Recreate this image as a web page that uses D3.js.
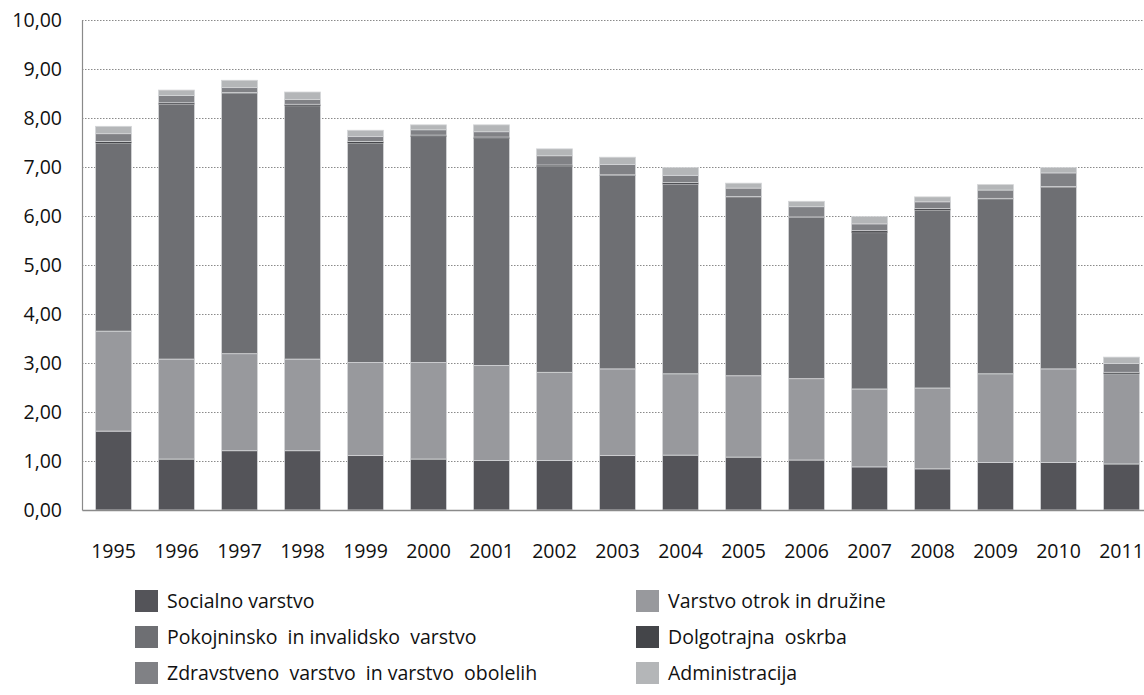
<!DOCTYPE html>
<html><head><meta charset="utf-8">
<script src="https://cdn.jsdelivr.net/npm/d3@7"></script>
<style>
body{margin:0;background:#fff;}
text{font-family:"Open Sans","Noto Sans",sans-serif;fill:#111;}
</style></head><body>
<svg id="c" width="1144" height="695"></svg>
<script>
const years = ["1995","1996","1997","1998","1999","2000","2001","2002","2003","2004","2005","2006","2007","2008","2009","2010","2011"];
const socialno     = [1.61,1.04,1.21,1.21,1.11,1.04,1.01,1.01,1.11,1.12,1.08,1.02,0.88,0.84,0.97,0.97,0.94];
const otrok        = [2.04,2.04,1.98,1.87,1.90,1.97,1.94,1.80,1.77,1.66,1.66,1.66,1.59,1.65,1.81,1.91,1.84];
const pokojninsko  = [3.84,5.20,5.32,5.17,4.48,4.61,4.63,4.20,3.95,3.87,3.65,3.29,3.19,3.63,3.57,3.71,0.00];
const dolgotrajna  = [0.03,0.03,0.01,0.03,0.03,0.03,0.03,0.03,0.01,0.03,0.01,0.01,0.04,0.03,0.01,0.01,0.03];
const zdravstveno  = [0.16,0.15,0.10,0.10,0.10,0.11,0.11,0.19,0.21,0.15,0.17,0.21,0.14,0.14,0.17,0.28,0.18];
const administracija=[0.15,0.11,0.15,0.15,0.13,0.10,0.14,0.14,0.15,0.16,0.10,0.11,0.15,0.10,0.11,0.11,0.13];
const yTicks = [0,1,2,3,4,5,6,7,8,9,10];

const series = [
  {key:"socialno", name:"Socialno varstvo", values:socialno, color:"#545459"},
  {key:"otrok", name:"Varstvo otrok in družine", values:otrok, color:"#98999d"},
  {key:"pokojninsko", name:"Pokojninsko  in invalidsko  varstvo", values:pokojninsko, color:"#6e6f73"},
  {key:"dolgotrajna", name:"Dolgotrajna  oskrba", values:dolgotrajna, color:"#444549"},
  {key:"zdravstveno", name:"Zdravstveno  varstvo  in varstvo  obolelih", values:zdravstveno, color:"#808185"},
  {key:"administracija", name:"Administracija", values:administracija, color:"#b4b6b8"}
];

const table = years.map((yr,i)=>{const o={year:yr}; series.forEach(s=>o[s.key]=s.values[i]); return o;});
const stack = d3.stack().keys(series.map(s=>s.key))(table);

const svg = d3.select("#c");
const mLeft = 82, mRight = 1153, mTop = 20, mBottom = 510;
const FS = 19.5;
const x = d3.scaleBand().domain(years).range([mLeft,mRight]).paddingInner(0.43).paddingOuter(0.215);
const y = d3.scaleLinear().domain([0,10]).range([mBottom,mTop]);

// gridlines
svg.append("g").selectAll("line").data(yTicks.filter(d=>d>0)).join("line")
  .attr("x1",mLeft).attr("x2",1144).attr("y1",d=>y(d)+0.5).attr("y2",d=>y(d)+0.5)
  .attr("stroke","#8a8a8a").attr("stroke-width",1).attr("stroke-dasharray","1.5,1.5");

// bars
const g = svg.append("g");
stack.forEach((layer,li)=>{
  g.append("g").attr("fill",series[li].color).selectAll("rect").data(layer).join("rect")
    .attr("x",d=>x(d.data.year)).attr("width",x.bandwidth())
    .attr("y",d=>y(d[1])).attr("height",d=>Math.max(0,y(d[0])-y(d[1])))
    .attr("stroke", series[li].key==="dolgotrajna" ? "none" : "#d4d5d7")
    .attr("stroke-width",0.8);
});

// axes
const yAxis = d3.axisLeft(y).tickValues(yTicks).tickSize(0).tickPadding(20)
  .tickFormat(d=>d3.format(".2f")(d).replace(".",","));
const ya = svg.append("g").attr("transform",`translate(${mLeft},0)`).call(yAxis);
ya.select(".domain").attr("stroke","#8a8a8a").attr("stroke-width",1.2);
ya.selectAll("text").attr("font-size",FS).attr("fill","#111").style("font-family","'Open Sans','Noto Sans',sans-serif");

const xAxis = d3.axisBottom(x).tickSize(0).tickPadding(34);
const xa = svg.append("g").attr("transform",`translate(0,${mBottom})`).call(xAxis);
xa.select(".domain").attr("stroke","#8a8a8a").attr("stroke-width",1.5);
xa.selectAll("text").attr("font-size",FS).attr("fill","#111").style("font-family","'Open Sans','Noto Sans',sans-serif");

// legend (row-major, two columns)
const lg = svg.append("g");
series.forEach((s,i)=>{
  const col = i%2, row = Math.floor(i/2);
  const lx = col===0 ? 135 : 636;
  const ly = 590 + row*36;
  lg.append("rect").attr("x",lx).attr("y",ly).attr("width",23).attr("height",22).attr("fill",s.color);
  lg.append("text").attr("x",lx+32).attr("y",ly+18).attr("font-size",FS)
    .style("white-space","pre").attr("xml:space","preserve").text(s.name);
});
</script>
</body></html>
